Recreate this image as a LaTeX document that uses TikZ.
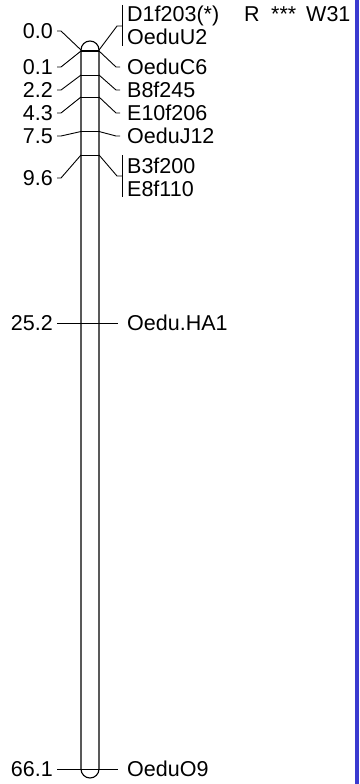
\documentclass[tikz,border=0pt]{standalone}
\usepackage{fontspec}
\setmainfont{Liberation Sans}
\definecolor{barblue}{RGB}{58,58,208}
\begin{document}
\begin{tikzpicture}[x=1pt,y=1pt,
  lab/.style={font=\fontsize{21.5}{23}\selectfont, inner sep=0pt, text height=15.4pt, text depth=0pt},
  poslab/.style={lab, anchor=east},
  mklab/.style={lab, anchor=west},
  conn/.style={line width=0.9pt, line join=round},
  chrom/.style={line width=1.1pt}]
\useasboundingbox (0,0) rectangle (359,-784);
\fill[white] (0,0) rectangle (359,-784);
\fill[barblue] (355,0) rectangle (359,-784);

% chromosome
\draw[chrom] (81,-50) -- (81,-769) arc[start angle=180, end angle=360, radius=9]
  -- (99,-50) arc[start angle=0, end angle=180, radius=9] -- cycle;

% marker positions on chromosome
\foreach \n/\y in {a/50,b/51,c/75,d/97,e/131.5,f/155,g/323,h/769}{
  \coordinate (\n L) at (81,-\y);
  \coordinate (\n R) at (99,-\y);
  \draw[conn] (\n L) -- (\n R);
}

% left position labels
\node[poslab] (p1) at (53,-31) {0.0};
\node[poslab] (p2) at (53,-67) {0.1};
\node[poslab] (p3) at (53,-90) {2.2};
\node[poslab] (p4) at (53,-113) {4.3};
\node[poslab] (p5) at (53,-136) {7.5};
\node[poslab] (p6) at (53,-178) {9.6};
\node[poslab] (p7) at (53,-323) {25.2};
\node[poslab] (p8) at (53,-769) {66.1};

\foreach \p/\n in {p1/a,p2/b,p3/c,p4/d,p5/e,p6/f}{
  \draw[conn] ([xshift=4pt]\p.east) -- ([xshift=8pt]\p.east) -- (\n L);
}
\draw[conn] ([xshift=4pt]p7.east) -- (gL);
\draw[conn] ([xshift=4pt]p8.east) -- (hL);

% right marker labels
\node[mklab] (m1) at (127,-14) {D1f203(*)};
\node[mklab] (m2) at (127,-37) {OeduU2};
\node[mklab] (m3) at (127,-67) {OeduC6};
\node[mklab] (m4) at (127,-90) {B8f245};
\node[mklab] (m5) at (127,-113) {E10f206};
\node[mklab] (m6) at (127,-136) {OeduJ12};
\node[mklab] (m7) at (127,-166) {B3f200};
\node[mklab] (m8) at (127,-189) {E8f110};
\node[mklab] (m9) at (127,-323) {Oedu.HA1};
\node[mklab] (m10) at (127,-769) {OeduO9};

\node[mklab] (t1) at (244,-14) {R};
\node[mklab] (t2) at (271,-14) {***};
\node[mklab] (t3) at (306,-14) {W31};

% brackets
\coordinate (b1t) at (122,-5);
\coordinate (b1b) at (122,-46);
\coordinate (b1m) at (122,-26);
\coordinate (b2t) at (122,-155);
\coordinate (b2b) at (122,-197);
\coordinate (b2m) at (122,-176);
\draw[conn] (b1t) -- (b1b);
\draw[conn] (b2t) -- (b2b);
\draw[conn] (aR) -- ([xshift=-5pt]b1m) -- (b1m);
\draw[conn] (fR) -- ([xshift=-5pt]b2m) -- (b2m);

\foreach \m/\n in {m3/b,m4/c,m5/d,m6/e}{
  \draw[conn] (\n R) -- ([xshift=-11pt]\m.west) -- ([xshift=-7pt]\m.west);
}
\draw[conn] (gR) -- ([xshift=-9pt]m9.west);
\draw[conn] (hR) -- ([xshift=-9pt]m10.west);
\end{tikzpicture}
\end{document}
